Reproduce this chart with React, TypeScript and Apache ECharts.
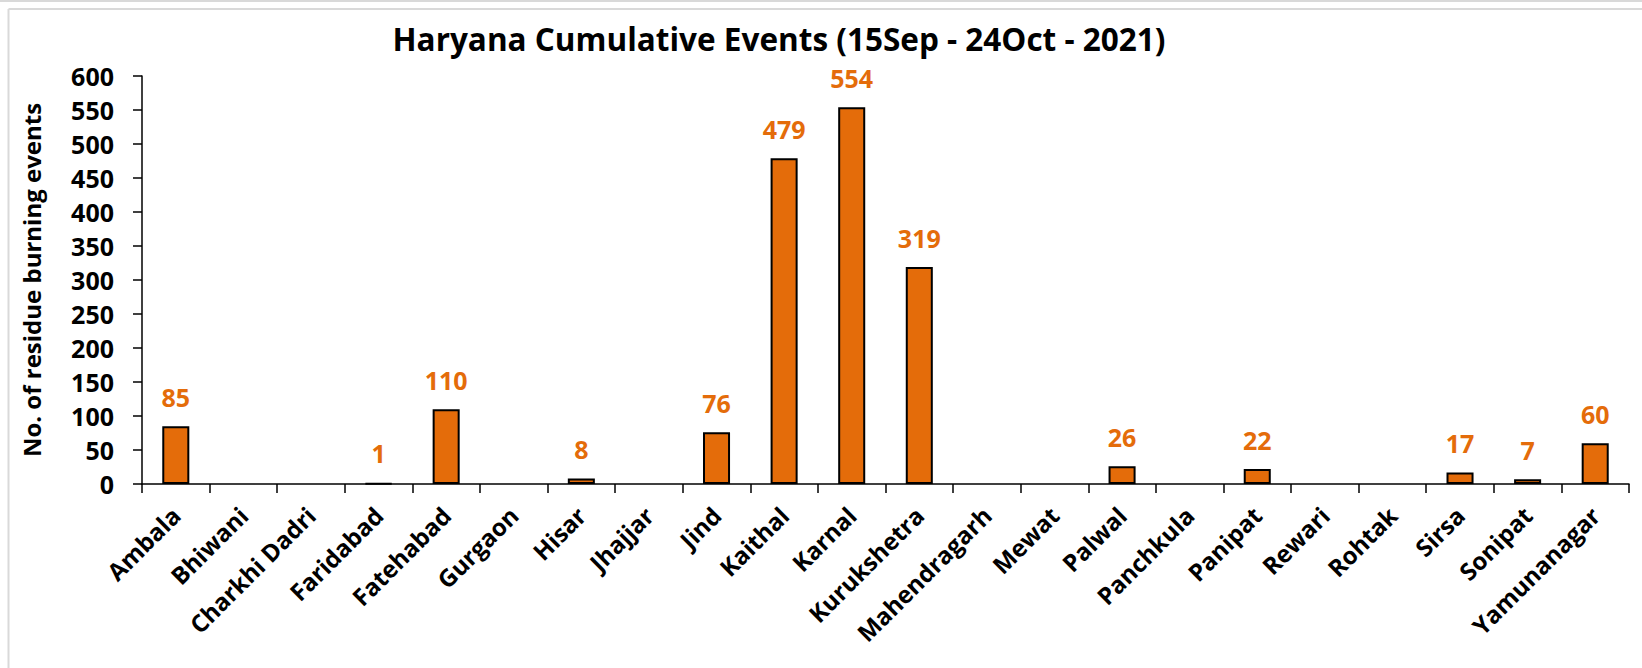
import React, { useEffect, useRef } from "react";
import * as echarts from "echarts";

const districts = [
  "Ambala", "Bhiwani", "Charkhi Dadri", "Faridabad", "Fatehabad", "Gurgaon",
  "Hisar", "Jhajjar", "Jind", "Kaithal", "Karnal", "Kurukshetra",
  "Mahendragarh", "Mewat", "Palwal", "Panchkula", "Panipat", "Rewari",
  "Rohtak", "Sirsa", "Sonipat", "Yamunanagar",
];
const events = [85, 0, 0, 1, 110, 0, 8, 0, 76, 479, 554, 319, 0, 0, 26, 0, 22, 0, 0, 17, 7, 60];
const titleText = "Haryana Cumulative Events (15Sep - 24Oct - 2021)";
const yAxisTitle = "No. of residue burning events";
const yMin = 0;
const yMax = 600;
const yStep = 50;

const FONT = "'Open Sans', sans-serif";
const ORANGE = "#E46C0A";

export default function App() {
  const ref = useRef<HTMLDivElement>(null);
  useEffect(() => {
    if (!ref.current) return;
    const chart = echarts.init(ref.current, null, { renderer: "svg" });
    chart.setOption({
      animation: false,
      backgroundColor: "#ffffff",
      title: {
        text: titleText,
        left: 774,
        top: 17,
        textAlign: "center",
        textStyle: { fontFamily: FONT, fontWeight: "bold", fontSize: 31.5, color: "#000" },
      },
      graphic: [
        { type: "line", shape: { x1: 0, y1: 1, x2: 1642, y2: 1 }, style: { stroke: "#d9d9d9", lineWidth: 2 } },
        { type: "line", shape: { x1: 8.5, y1: 9, x2: 1642, y2: 9 }, style: { stroke: "#d9d9d9", lineWidth: 2 } },
        { type: "line", shape: { x1: 8.5, y1: 9, x2: 8.5, y2: 668 }, style: { stroke: "#d9d9d9", lineWidth: 2 } },
      ],
      grid: { left: 142, right: 13, top: 76, bottom: 184, containLabel: false },
      xAxis: {
        type: "category",
        data: districts,
        boundaryGap: true,
        axisLine: { lineStyle: { color: "#000", width: 1.5 } },
        axisTick: { show: true, alignWithLabel: false, length: 9, lineStyle: { color: "#000", width: 1.5 } },
        axisLabel: {
          interval: 0,
          rotate: 45,
          margin: 27,
          padding: [22, 0, 0, 0],
          fontFamily: FONT,
          fontWeight: "bold",
          fontSize: 24,
          color: "#000",
        },
      },
      yAxis: {
        type: "value",
        min: yMin,
        max: yMax,
        interval: yStep,
        name: yAxisTitle,
        nameLocation: "middle",
        nameRotate: 90,
        nameGap: 99,
        nameTextStyle: { fontFamily: FONT, fontWeight: "bold", fontSize: 24, color: "#000" },
        splitLine: { show: false },
        axisLine: { show: true, lineStyle: { color: "#000", width: 1.5 } },
        axisTick: { show: true, length: 9, lineStyle: { color: "#000", width: 1.5 } },
        axisLabel: {
          margin: 28,
          fontFamily: FONT,
          fontWeight: "bold",
          fontSize: 25,
          color: "#000",
        },
      },
      series: [
        {
          type: "bar",
          barWidth: "40%",
          data: events.map((v) => ({
            value: v,
            itemStyle: v === 0 ? { borderWidth: 0 } : undefined,
          })),
          itemStyle: { color: ORANGE, borderColor: "#000", borderWidth: 2 },
          label: {
            show: true,
            position: "top",
            distance: 17,
            formatter: (p: any) => (p.value === 0 ? "" : String(p.value)),
            fontFamily: FONT,
            fontWeight: "bold",
            fontSize: 25,
            color: ORANGE,
          },
        },
      ],
    });
    return () => chart.dispose();
  }, []);
  return (
    <div
      ref={ref}
      style={{ position: "fixed", left: 0, top: 0, width: 1642, height: 668, background: "#fff" }}
    />
  );
}
